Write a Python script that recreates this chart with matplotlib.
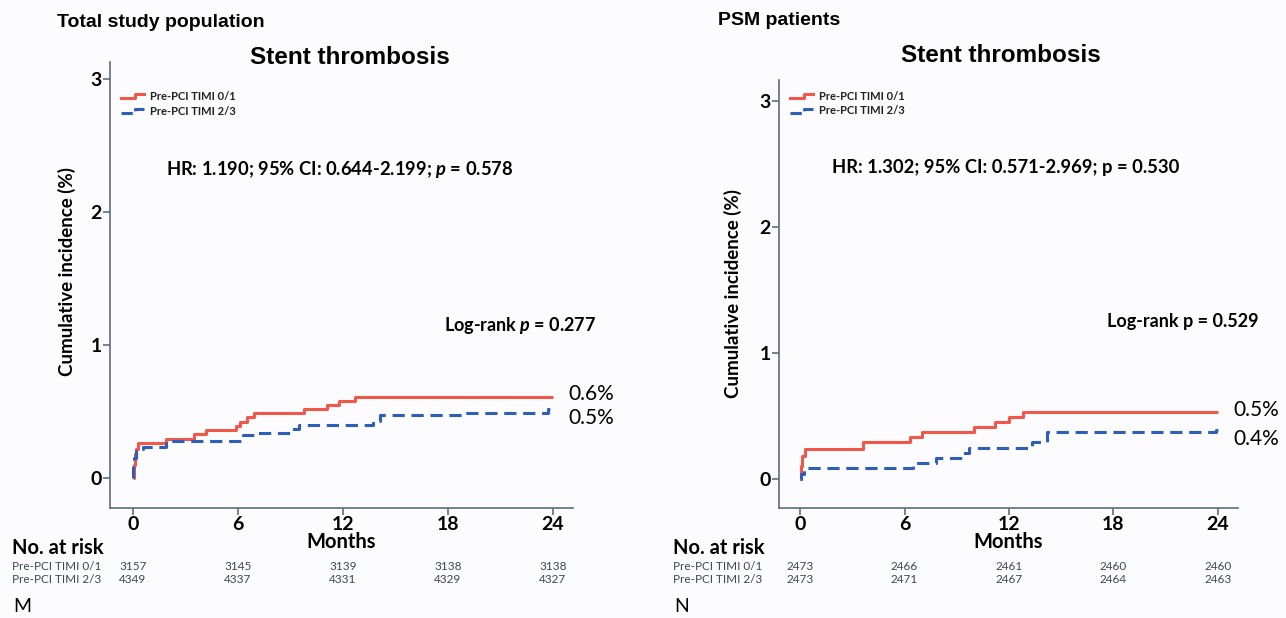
import matplotlib
matplotlib.use("Agg")
import matplotlib.pyplot as plt
from matplotlib import font_manager
from matplotlib.lines import Line2D
from matplotlib.legend_handler import HandlerBase
from matplotlib.transforms import blended_transform_factory

# cumulative incidence (%) step curves, months
total_t01_t = [0, 0.05, 0.1, 0.2, 0.3, 1.9, 3.5, 4.2, 5.9, 6.1, 6.5, 6.9, 9.8, 11.1, 11.8, 12.7, 24]
total_t01_v = [0, 0.10, 0.18, 0.22, 0.26, 0.29, 0.33, 0.36, 0.39, 0.42, 0.46, 0.49, 0.52, 0.55, 0.58, 0.61, 0.61]
total_t23_t = [0, 0.03, 0.08, 0.15, 0.3, 0.6, 1.9, 6.3, 7.0, 9.1, 9.5, 13.7, 14.1, 19.0, 23.7, 24]
total_t23_v = [0, 0.08, 0.15, 0.20, 0.22, 0.235, 0.28, 0.32, 0.34, 0.37, 0.40, 0.43, 0.47, 0.49, 0.52, 0.52]

psm_t01_t = [0, 0.05, 0.1, 0.3, 3.6, 6.3, 7.0, 10.0, 11.2, 12.0, 12.8, 24]
psm_t01_v = [0, 0.10, 0.18, 0.24, 0.29, 0.33, 0.37, 0.41, 0.45, 0.49, 0.53, 0.53]
psm_t23_t = [0, 0.05, 0.2, 6.5, 7.8, 9.3, 9.7, 13.3, 14.2, 23.9, 24]
psm_t23_v = [0, 0.04, 0.085, 0.13, 0.165, 0.21, 0.25, 0.29, 0.37, 0.39, 0.39]

risk_months = [0, 6, 12, 18, 24]
total_risk_01 = [3157, 3145, 3139, 3138, 3138]
total_risk_23 = [4349, 4337, 4331, 4329, 4327]
psm_risk_01 = [2473, 2466, 2461, 2460, 2460]
psm_risk_23 = [2473, 2471, 2467, 2464, 2463]

group_names = ["Pre-PCI TIMI 0/1", "Pre-PCI TIMI 2/3"]

RED = "#f0584a"
BLUE = "#2d5eb8"
AXCOL = "#5d6d7e"
BG = "#fcfcfe"

installed = {f.name for f in font_manager.fontManager.ttflist}
BODY = "Lato" if "Lato" in installed else "DejaVu Sans"
HEAD = "Liberation Sans"
plt.rcParams["font.family"] = BODY
plt.rcParams["mathtext.fontset"] = "custom"
plt.rcParams["mathtext.bfit"] = BODY + ":italic:bold"


class StepHandler(HandlerBase):
    # little step glyph for the legend keys
    def create_artists(self, legend, orig_handle, xdescent, ydescent,
                       width, height, fontsize, trans):
        x0, x1 = -xdescent, -xdescent + width
        xm = x0 + width * 0.62
        ylo, yhi = -ydescent + height * 0.25, -ydescent + height * 0.75
        line = Line2D([x0, xm, xm, x1], [ylo, ylo, yhi, yhi],
                      color=orig_handle.get_color(), lw=2.2,
                      linestyle=orig_handle.get_linestyle(), transform=trans)
        return [line]


fig = plt.figure(figsize=(12.86, 6.18), dpi=100, facecolor=BG)


def draw_panel(rect, ylim, xlim, curves, risks, end_labels, hr_text, hr_pos,
               lr_text, lr_pos, leg_anchor, ylab_xy, xlab_y):
    ax = fig.add_axes(rect)
    ax.set_facecolor(BG)
    (t1, v1), (t2, v2) = curves
    h1, = ax.step(t1, v1, where="post", color=RED, lw=2.2, solid_capstyle="butt")
    h2, = ax.step(t2, v2, where="post", color=BLUE, lw=2.2, linestyle=(0, (4, 2.2)))
    ax.set_xlim(*xlim)
    ax.set_ylim(*ylim)
    ax.set_xticks(risk_months)
    ax.set_yticks([0, 1, 2, 3])
    for s in ["top", "right"]:
        ax.spines[s].set_visible(False)
    for s in ["left", "bottom"]:
        ax.spines[s].set_color(AXCOL)
        ax.spines[s].set_linewidth(1.2)
    ax.tick_params(direction="out", length=5, width=1.2, color=AXCOL,
                   labelsize=14, pad=1)
    for lab in ax.get_xticklabels() + ax.get_yticklabels():
        lab.set_fontweight("bold")
    ax.set_xlabel("Months", fontsize=14.5, fontweight="bold")
    ax.xaxis.set_label_coords(0.5, xlab_y)
    ax.set_ylabel("Cumulative incidence (%)", fontsize=13.5, fontweight="bold")
    ax.yaxis.set_label_coords(*ylab_xy)

    leg = ax.legend([h1, h2], group_names, handler_map={Line2D: StepHandler()},
                    loc="upper left", bbox_to_anchor=leg_anchor, frameon=False,
                    prop={"size": 8, "weight": "bold"}, handlelength=2.0,
                    handletextpad=0.6, labelspacing=0.35, borderaxespad=0)
    for txt in leg.get_texts():
        txt.set_color("#222222")

    # final cumulative incidence at 24 months
    ax.text(24.9, v1[-1] + 0.02, end_labels[0], fontsize=15, va="center", ha="left")
    ax.text(24.9, v2[-1] - 0.07, end_labels[1], fontsize=15, va="center", ha="left")

    ax.text(*hr_pos, hr_text, transform=ax.transAxes, fontsize=13.2,
            fontweight="bold", ha="left", va="center")
    ax.text(*lr_pos, lr_text, transform=ax.transAxes, fontsize=13,
            fontweight="bold", ha="right", va="center")

    # numbers at risk under the month ticks
    tr = blended_transform_factory(ax.transData, fig.transFigure)
    for y, row in zip([0.083, 0.062], risks):
        for m, n in zip(risk_months, row):
            ax.text(m, y, str(n), transform=tr, fontsize=8.5, color="#3b4756",
                    ha="center", va="center")
    return ax


ax1 = draw_panel(
    [0.0855, 0.178, 0.360, 0.722], (-0.226, 3.128), (-1.31, 25.14),
    [(total_t01_t, total_t01_v), (total_t23_t, total_t23_v)],
    [total_risk_01, total_risk_23], ["0.6%", "0.5%"],
    r"HR: 1.190; 95% CI: 0.644-2.199; $\boldsymbol{p}$ = 0.578", (0.12, 0.758),
    r"Log-rank $\boldsymbol{p}$ = 0.277", (1.05, 0.41),
    (0.015, 0.945), (-0.073, 0.53), -0.054)

ax2 = draw_panel(
    [0.6058, 0.178, 0.357, 0.693], (-0.23, 3.17), (-1.21, 25.17),
    [(psm_t01_t, psm_t01_v), (psm_t23_t, psm_t23_v)],
    [psm_risk_01, psm_risk_23], ["0.5%", "0.4%"],
    "HR: 1.302; 95% CI: 0.571-2.969; p = 0.530", (0.115, 0.795),
    "Log-rank p = 0.529", (1.045, 0.435),
    (0.015, 0.985), (-0.08, 0.5), -0.056)

# headings
fig.text(0.044, 0.963, "Total study population", fontsize=14, fontweight="bold",
         family=HEAD, ha="left", va="center")
fig.text(0.272, 0.907, "Stent thrombosis", fontsize=17.5, fontweight="bold",
         family=HEAD, ha="center", va="center")
fig.text(0.558, 0.967, "PSM patients", fontsize=14, fontweight="bold",
         family=HEAD, ha="left", va="center")
fig.text(0.778, 0.91, "Stent thrombosis", fontsize=17.5, fontweight="bold",
         family=HEAD, ha="center", va="center")

# risk table headers and panel letters
for x0, letter in [(0.009, "M"), (0.523, "N")]:
    fig.text(x0, 0.113, "No. at risk", fontsize=14.5, fontweight="bold", ha="left", va="center")
    fig.text(x0, 0.083, group_names[0], fontsize=8.5, color="#3b4756", ha="left", va="center")
    fig.text(x0, 0.062, group_names[1], fontsize=8.5, color="#3b4756", ha="left", va="center")
    fig.text(x0 + 0.001, 0.018, letter, fontsize=14, ha="left", va="center")

fig.savefig("out.png", dpi=100, facecolor=BG)
